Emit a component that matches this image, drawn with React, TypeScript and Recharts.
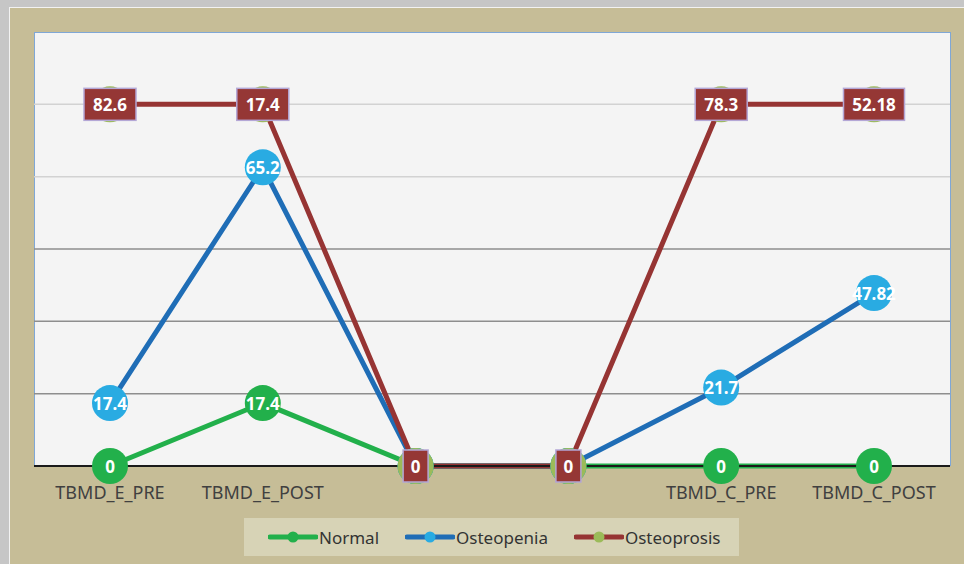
import React from 'react';
import { AreaChart, Area, XAxis, YAxis, CartesianGrid } from 'recharts';

const categoryKeys = ['E_PRE', 'E_POST', 'GAP_1', 'GAP_2', 'C_PRE', 'C_POST'];
const tickLabels = ['TBMD_E_PRE', 'TBMD_E_POST', '', '', 'TBMD_C_PRE', 'TBMD_C_POST'];
const normal = [0, 17.4, 0, 0, 0, 0];
const osteopenia = [17.4, 65.2, 0, 0, 21.7, 47.82];
const osteoprosis = [82.6, 17.4, 0, 0, 78.3, 52.18];
const seriesNames = ['Normal', 'Osteopenia', 'Osteoprosis'];
const darkGrid = [20, 40, 60];
const lightGrid = [80, 100];

const data = categoryKeys.map((k, i) => ({
  key: k,
  Normal: normal[i],
  Osteopenia: osteopenia[i],
  Osteoprosis: osteoprosis[i],
}));

const FONT = '"Noto Sans", "Open Sans", sans-serif';

const COLORS = {
  Normal: { line: '#22B04B', marker: '#22B04B' },
  Osteopenia: { line: '#1F6DB6', marker: '#29ABE2' },
  Osteoprosis: { line: '#963433', marker: '#9BBB59' },
};

const makeDot = (name: string) => (props: any) => {
  const { cx, cy, index, payload } = props;
  const k = `${name}-${index}`;
  if (cx == null || cy == null || isNaN(cx) || isNaN(cy)) return <g key={k} />;
  const v = payload ? payload[name] : '';
  const txt = String(v);
  const c = (COLORS as any)[name];
  if (name === 'Osteoprosis') {
    const w = txt.length * 9 + 16;
    const h = 32;
    return (
      <g key={k}>
        <circle cx={cx} cy={cy} r={18} fill={c.marker} />
        <rect x={cx - w / 2} y={cy - h / 2} width={w} height={h} fill="#953735" stroke="#B4A7D6" strokeWidth={1.5} />
        <text x={cx} y={cy} textAnchor="middle" dominantBaseline="central" fill="#fff" fontWeight="bold" fontSize={17} fontFamily={FONT}>{txt}</text>
      </g>
    );
  }
  return (
    <g key={k}>
      <circle cx={cx} cy={cy} r={18} fill={c.marker} />
      <text x={cx} y={cy} textAnchor="middle" dominantBaseline="central" fill="#fff" fontWeight="bold" fontSize={17} fontFamily={FONT}>{txt}</text>
    </g>
  );
};

const Tick = (props: any) => {
  const { x, index } = props;
  return (
    <text x={x} y={499} textAnchor="middle" fill="#404040" fontSize={18} fontFamily={FONT}>{tickLabels[index]}</text>
  );
};

const LegendItem = ({ name }: { name: string }) => {
  const c = (COLORS as any)[name];
  return (
    <div style={{ display: 'flex', alignItems: 'center', marginRight: 26 }}>
      <svg width={50} height={12} style={{ display: 'block' }}>
        <line x1={2} y1={6} x2={48} y2={6} stroke={c.line} strokeWidth={5} strokeLinecap="round" />
        <circle cx={25} cy={6} r={5.5} fill={c.marker} />
      </svg>
      <span style={{ fontFamily: FONT, fontSize: 17, color: '#333', marginLeft: 1 }}>{name}</span>
    </div>
  );
};

export default function App() {
  return (
    <div style={{ position: 'absolute', left: 0, top: 0, width: 964, height: 564, background: '#C6C6C6', overflow: 'hidden' }}>
      <div style={{ position: 'absolute', left: 9, top: 7, width: 955, height: 557, background: '#F2F2F2' }} />
      <div style={{ position: 'absolute', left: 10, top: 8, width: 954, height: 556, background: '#C6BD97' }} />
      <div style={{ position: 'absolute', left: 34, top: 32, width: 915, height: 433, background: '#F4F4F4', border: '1px solid #7FA7D6', borderBottom: 'none' }} />
      <div style={{ position: 'absolute', left: 0, top: 0 }}>
        <AreaChart width={964} height={564} data={data} margin={{ top: 32, right: 14, bottom: 0, left: 34 }}>
          <CartesianGrid vertical={false} horizontalValues={lightGrid} stroke="#D2D2D2" strokeWidth={1.5} />
          <CartesianGrid vertical={false} horizontalValues={darkGrid} stroke="#8E8E8E" strokeWidth={1.5} />
          <XAxis
            dataKey="key"
            tick={<Tick />}
            tickLine={false}
            axisLine={{ stroke: '#1a1a1a', strokeWidth: 2 }}
            interval={0}
            height={98}
            padding={{ left: 76, right: 76 }}
          />
          <YAxis hide domain={[0, 120]} type="number" />
          {seriesNames.map((n) => (
            <Area
              key={n}
              type="linear"
              dataKey={n}
              stackId="s"
              stroke={(COLORS as any)[n].line}
              strokeWidth={5}
              fill="none"
              fillOpacity={0}
              dot={makeDot(n)}
              activeDot={false}
              isAnimationActive={false}
            />
          ))}
        </AreaChart>
      </div>
      <div style={{ position: 'absolute', left: 244, top: 518, width: 495, height: 38, background: '#D7D3B6', display: 'flex', alignItems: 'center', justifyContent: 'flex-start', paddingLeft: 24, boxSizing: 'border-box' }}>
        {seriesNames.map((n) => (
          <LegendItem key={n} name={n} />
        ))}
      </div>
    </div>
  );
}
